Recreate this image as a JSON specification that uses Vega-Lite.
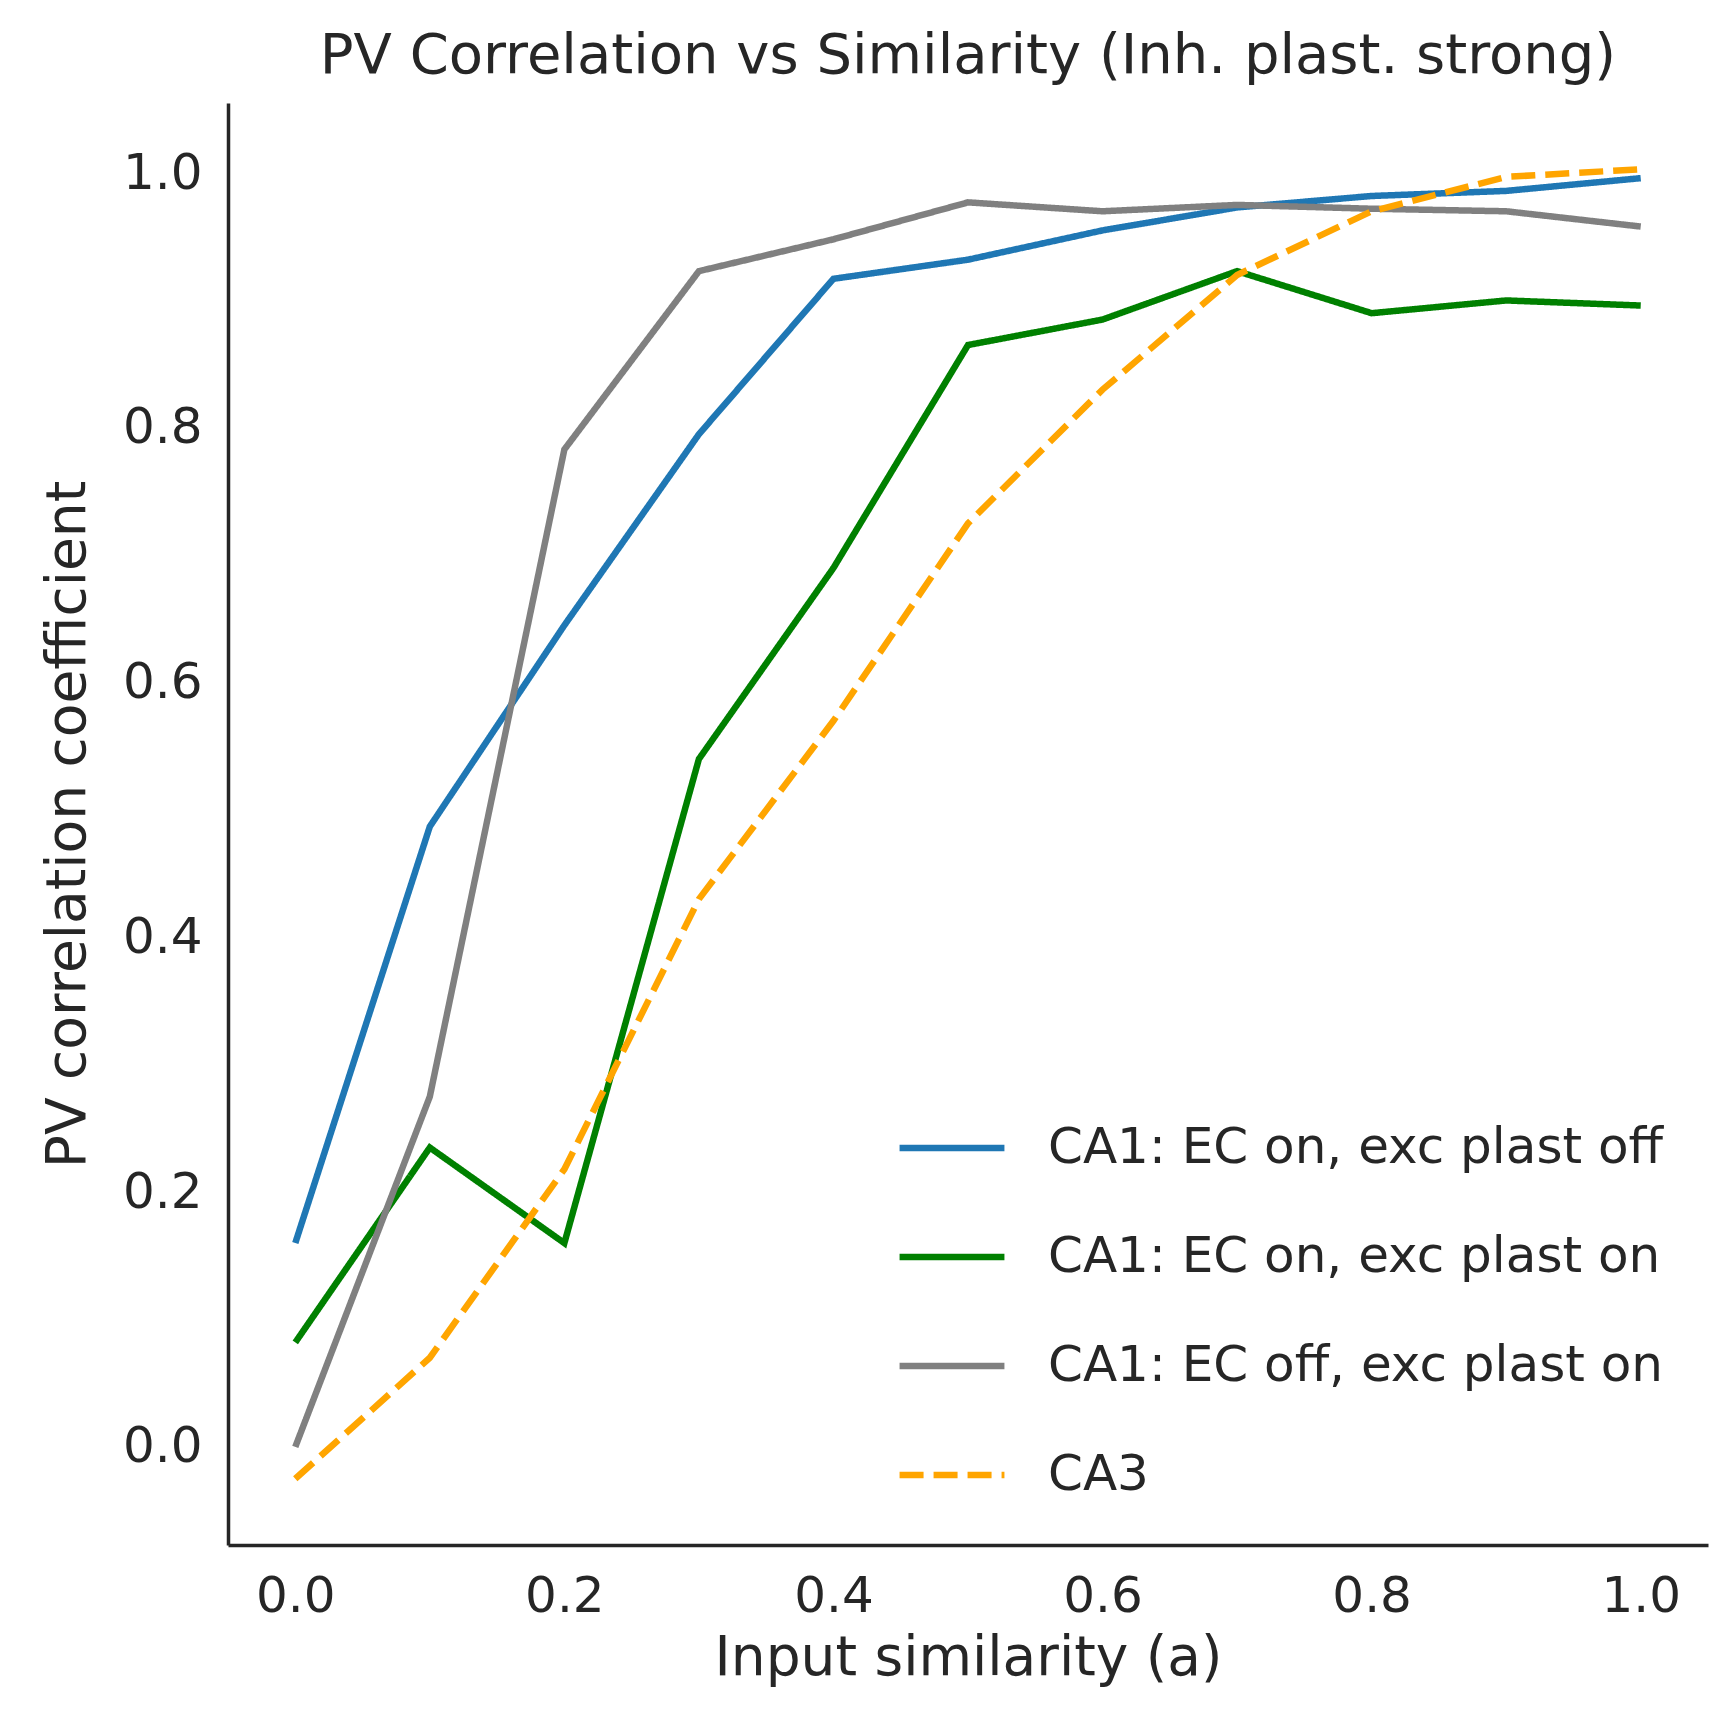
{
  "$schema": "https://vega.github.io/schema/vega-lite/v6.json",
  "autosize": {"type": "fit", "contains": "padding"},
  "width": 1730,
  "height": 1730,
  "padding": {"left": 40, "right": 22, "top": 28, "bottom": 45},
  "background": "white",
  "config": {
    "font": "DejaVu Sans",
    "view": {"stroke": null},
    "axis": {"domainColor": "#262626", "domainWidth": 3.5, "tickColor": "#262626", "tickSize": 0, "labelColor": "#262626", "titleColor": "#262626", "labelFontSize": 50, "titleFontSize": 55, "titleFontWeight": "normal", "grid": false, "labelPadding": 26}
  },
  "title": {"text": "PV Correlation vs Similarity (Inh. plast. strong)", "fontSize": 56, "fontWeight": "normal", "color": "#262626", "offset": 18},
  "data": {"values": [
    {"a":0,"s":"CA1: EC on, exc plast off","r":0.16},{"a":0.1,"s":"CA1: EC on, exc plast off","r":0.487},{"a":0.2,"s":"CA1: EC on, exc plast off","r":0.645},{"a":0.3,"s":"CA1: EC on, exc plast off","r":0.795},{"a":0.4,"s":"CA1: EC on, exc plast off","r":0.917},{"a":0.5,"s":"CA1: EC on, exc plast off","r":0.932},{"a":0.6,"s":"CA1: EC on, exc plast off","r":0.955},{"a":0.7,"s":"CA1: EC on, exc plast off","r":0.973},{"a":0.8,"s":"CA1: EC on, exc plast off","r":0.982},{"a":0.9,"s":"CA1: EC on, exc plast off","r":0.986},{"a":1.0,"s":"CA1: EC on, exc plast off","r":0.996},
    {"a":0,"s":"CA1: EC on, exc plast on","r":0.082},{"a":0.1,"s":"CA1: EC on, exc plast on","r":0.235},{"a":0.2,"s":"CA1: EC on, exc plast on","r":0.16},{"a":0.3,"s":"CA1: EC on, exc plast on","r":0.54},{"a":0.4,"s":"CA1: EC on, exc plast on","r":0.69},{"a":0.5,"s":"CA1: EC on, exc plast on","r":0.865},{"a":0.6,"s":"CA1: EC on, exc plast on","r":0.885},{"a":0.7,"s":"CA1: EC on, exc plast on","r":0.923},{"a":0.8,"s":"CA1: EC on, exc plast on","r":0.89},{"a":0.9,"s":"CA1: EC on, exc plast on","r":0.9},{"a":1.0,"s":"CA1: EC on, exc plast on","r":0.896},
    {"a":0,"s":"CA1: EC off, exc plast on","r":0.0},{"a":0.1,"s":"CA1: EC off, exc plast on","r":0.275},{"a":0.2,"s":"CA1: EC off, exc plast on","r":0.783},{"a":0.3,"s":"CA1: EC off, exc plast on","r":0.923},{"a":0.4,"s":"CA1: EC off, exc plast on","r":0.948},{"a":0.5,"s":"CA1: EC off, exc plast on","r":0.977},{"a":0.6,"s":"CA1: EC off, exc plast on","r":0.97},{"a":0.7,"s":"CA1: EC off, exc plast on","r":0.975},{"a":0.8,"s":"CA1: EC off, exc plast on","r":0.972},{"a":0.9,"s":"CA1: EC off, exc plast on","r":0.97},{"a":1.0,"s":"CA1: EC off, exc plast on","r":0.958},
    {"a":0,"s":"CA3","r":-0.025},{"a":0.1,"s":"CA3","r":0.07},{"a":0.2,"s":"CA3","r":0.218},{"a":0.3,"s":"CA3","r":0.43},{"a":0.4,"s":"CA3","r":0.57},{"a":0.5,"s":"CA3","r":0.725},{"a":0.6,"s":"CA3","r":0.83},{"a":0.7,"s":"CA3","r":0.92},{"a":0.8,"s":"CA3","r":0.97},{"a":0.9,"s":"CA3","r":0.997},{"a":1.0,"s":"CA3","r":1.003}
  ]},
  "mark": {"type": "line", "strokeWidth": 6.5, "clip": true},
  "encoding": {
    "x": {"field": "a", "type": "quantitative", "title": "Input similarity (a)", "scale": {"domain": [-0.05, 1.05], "nice": false, "zero": false}, "axis": {"values": [0, 0.2, 0.4, 0.6, 0.8, 1.0], "format": ".1f", "titlePadding": 10}},
    "y": {"field": "r", "type": "quantitative", "title": "PV correlation coefficient", "scale": {"domain": [-0.077, 1.055], "nice": false, "zero": false}, "axis": {"values": [0, 0.2, 0.4, 0.6, 0.8, 1.0], "format": ".1f", "titlePadding": 26}},
    "color": {"field": "s", "type": "nominal", "title": null,
      "scale": {"domain": ["CA1: EC on, exc plast off", "CA1: EC on, exc plast on", "CA1: EC off, exc plast on", "CA3"], "range": ["#1f77b4", "#008000", "#808080", "#ffa500"]},
      "legend": {"orient": "bottom-right", "offset": 45, "labelFontSize": 50, "labelColor": "#262626", "symbolType": "stroke", "symbolSize": 11000, "symbolStrokeWidth": 6.5, "rowPadding": 28, "labelOffset": 40, "labelLimit": 900}},
    "strokeDash": {"field": "s", "type": "nominal", "title": null,
      "scale": {"domain": ["CA1: EC on, exc plast off", "CA1: EC on, exc plast on", "CA1: EC off, exc plast on", "CA3"], "range": [[1, 0], [1, 0], [1, 0], [24, 10]]}}
  }
}
